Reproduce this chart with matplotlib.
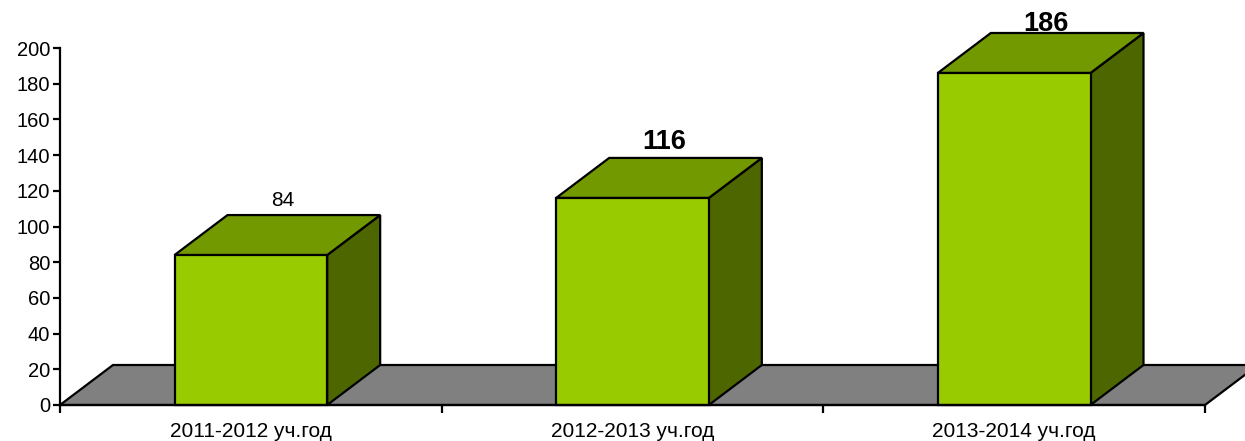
import matplotlib
matplotlib.use("Agg")
import matplotlib.pyplot as plt
from matplotlib.patches import Polygon
from matplotlib.ticker import FixedLocator, NullFormatter

categories = ["2011-2012 уч.год", "2012-2013 уч.год", "2013-2014 уч.год"]
values = [84, 116, 186]
label_bold = [False, True, True]
yticks = list(range(0, 201, 20))

plt.rcParams['font.family'] = ['Liberation Sans', 'DejaVu Sans']

W, H, DPI = 1245, 441, 100
fig = plt.figure(figsize=(W / DPI, H / DPI), dpi=DPI)
ax_l, ax_r, ax_b, ax_t = 60, 1205, 405, 48  # pixel positions
ax = fig.add_axes([ax_l / W, 1 - ax_b / H, (ax_r - ax_l) / W, (ax_b - ax_t) / H])
n = len(categories)
ax.set_xlim(0, n)
ax.set_ylim(0, 200)

# depth offset in data units (from pixel offsets)
DX_PX, DY_PX = 53, 40
dx = DX_PX / (ax_r - ax_l) * n
dy = DY_PX / (ax_b - ax_t) * 200
px_per_unit = (ax_b - ax_t) / 200

front_c = '#99CC00'
top_c = '#739900'
side_c = '#4D6600'
floor_c = '#808080'
lw = 1.6

# floor
ax.add_patch(Polygon([(0, 0), (n, 0), (n + dx, dy), (dx, dy)], closed=True,
                     facecolor=floor_c, edgecolor='black', lw=lw, clip_on=False, zorder=1))

bw = 0.4
for i, v in enumerate(values):
    c = i + 0.5
    x0, x1 = c - bw / 2, c + bw / 2
    side = [(x1, 0), (x1 + dx, dy), (x1 + dx, v + dy), (x1, v)]
    top = [(x0, v), (x1, v), (x1 + dx, v + dy), (x0 + dx, v + dy)]
    front = [(x0, 0), (x1, 0), (x1, v), (x0, v)]
    for pts, col in ((side, side_c), (top, top_c), (front, front_c)):
        ax.add_patch(Polygon(pts, closed=True, facecolor=col, edgecolor='black',
                             lw=lw, joinstyle='miter', clip_on=False, zorder=3))
    # label baseline: ~9px above the back top edge, but kept inside the figure
    back_top_px = ax_b - (v + dy) * px_per_unit
    base_px = max(back_top_px - 9, 31)
    off_pt = -(base_px - back_top_px) * 72 / DPI
    ax.annotate(str(v), (c + dx * 0.6, v + dy), xytext=(0, off_pt), textcoords='offset points',
                ha='center', va='baseline',
                fontsize=19.5 if label_bold[i] else 15,
                fontweight='bold' if label_bold[i] else 'normal',
                annotation_clip=False, zorder=5)
    # category label
    ax.annotate(categories[i], (c, 0), xytext=(0, -32 * 72 / DPI), textcoords='offset points',
                ha='center', va='baseline', fontsize=15, annotation_clip=False)

for s in ('top', 'right'):
    ax.spines[s].set_visible(False)
for s in ('left', 'bottom'):
    ax.spines[s].set_linewidth(1.6)
    ax.spines[s].set_zorder(4)

ax.set_yticks(yticks)
ax.set_yticklabels([str(t) for t in yticks], fontsize=14.5)
ax.tick_params(axis='y', direction='out', length=5, width=1.6, pad=2)

ax.xaxis.set_major_locator(FixedLocator(list(range(n + 1))))
ax.xaxis.set_major_formatter(NullFormatter())
ax.tick_params(axis='x', which='major', direction='out', length=6, width=1.6)

fig.savefig('out.png', dpi=DPI)
